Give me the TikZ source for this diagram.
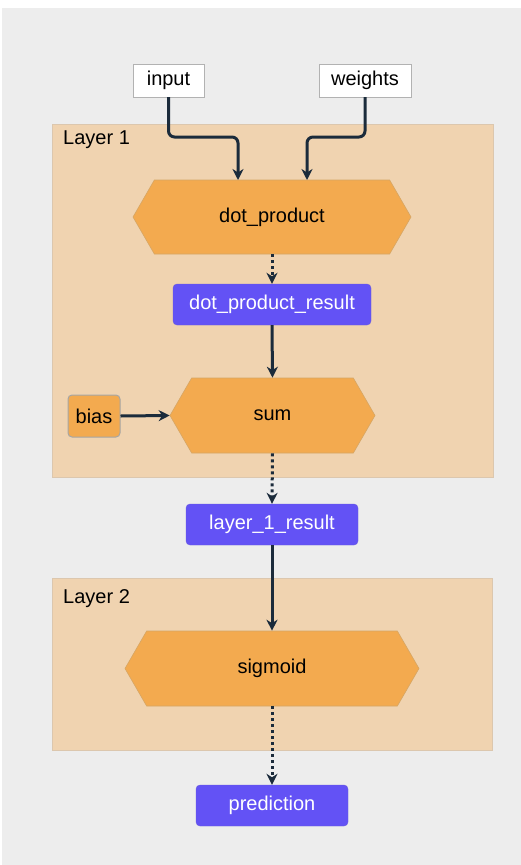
\documentclass[tikz,border=0pt]{standalone}
\usepackage{fontspec}
\setmainfont{Liberation Sans}
\usetikzlibrary{arrows.meta,shapes.symbols}

\definecolor{canvas}{HTML}{EDEDED}
\definecolor{layerbg}{HTML}{F0D3B0}
\definecolor{layerline}{HTML}{DCC7AE}
\definecolor{opfill}{HTML}{F3AA4F}
\definecolor{opline}{HTML}{D6A665}
\definecolor{datafill}{HTML}{6352F5}
\definecolor{edgecol}{HTML}{1B2B3B}

\tikzset{
  op/.style={signal, signal to=west and east, signal pointer angle=120,
    fill=opfill, draw=opline, line width=0.6pt, inner sep=0pt},
  data/.style={rectangle, rounded corners=4pt, fill=datafill, draw=datafill!80!gray,
    text=white, minimum height=41pt, inner sep=0pt},
  param/.style={rectangle, fill=white, draw=gray!60, minimum height=33pt, inner sep=0pt},
  layer/.style={fill=layerbg, draw=layerline, line width=0.6pt},
  flow/.style={draw=edgecol, line width=3pt, -{Stealth[length=11pt,width=11pt,inset=3.5pt]}},
  lazy/.style={flow, dash pattern=on 3pt off 3pt}
}

\begin{document}
\begin{tikzpicture}[x=1pt, y=-1pt, font=\fontsize{20}{24}\selectfont]
\useasboundingbox (0,0) rectangle (521,865);
\fill[canvas] (2,8) rectangle (521,865);

% layers
\draw[layer] (52,124) rectangle (493,477);
\node[anchor=base west, inner sep=0pt] (layer1) at (63,144) {Layer 1};
\draw[layer] (52,578) rectangle (492,750);
\node[anchor=base west, inner sep=0pt] (layer2) at (63,603) {Layer 2};

% inputs
\node[param, minimum width=71pt] (input) at (168.5,80.5) {input};
\node[param, minimum width=92pt] (weights) at (365,80.5) {weights};

% layer 1
\node[op, minimum width=278pt, minimum height=74pt] (dot) at (272,217) {dot\_product};
\node[data, minimum width=198pt] (dotres) at (272,304.5) {dot\_product\_result};
\node[op, minimum width=205pt, minimum height=75pt] (sum) at (272.5,415.5) {sum};
\node[rectangle, rounded corners=4pt, fill=opfill, draw=gray!70, line width=1pt,
  minimum width=52pt, minimum height=42pt, inner sep=0pt] (bias) at (94,416) {bias};

\node[data, minimum width=172pt] (l1res) at (272,524.5) {layer\_1\_result};

% layer 2
\node[op, minimum width=294pt, minimum height=75pt] (sigmoid) at (272,668.5) {sigmoid};
\node[data, minimum width=152pt] (pred) at (272,805.5) {prediction};

% edges
\draw[flow, rounded corners=6pt] (input.south) |- (238,137) -- (238,180);
\draw[flow, rounded corners=6pt] (weights.south) |- (307,137) -- (307,180);
\draw[lazy] (dot.south) -- (dotres.north);
\draw[flow] (dotres.south) -- (sum.north);
\draw[flow] (bias.east) -- (sum.west);
\draw[lazy] (sum.south) -- (l1res.north);
\draw[flow] (l1res.south) -- (sigmoid.north);
\draw[lazy] (sigmoid.south) -- (pred.north);
\end{tikzpicture}
\end{document}
